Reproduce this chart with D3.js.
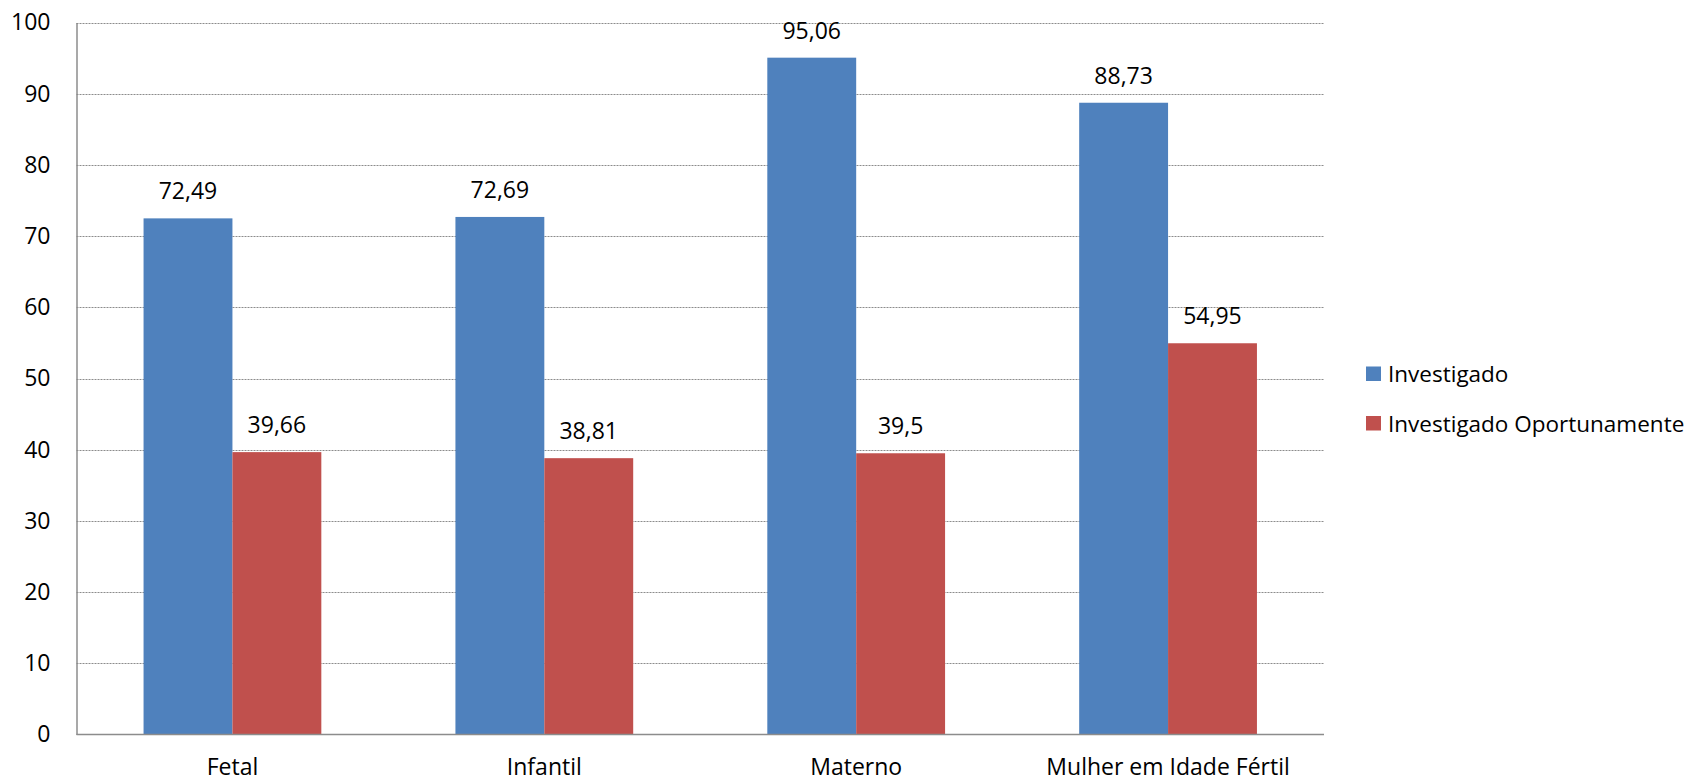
<!DOCTYPE html>
<html>
<head>
<meta charset="utf-8">
<script src="https://cdn.jsdelivr.net/npm/d3@7"></script>
<style>
  html, body { margin: 0; padding: 0; background: #fff; }
  svg { display: block; font-family: "Open Sans", Lato, sans-serif; }
</style>
</head>
<body>
<svg id="chart" width="1696" height="782"></svg>
<script>
// Categories and series
const categories = ["Fetal", "Infantil", "Materno", "Mulher em Idade Fértil"];
const seriesNames = ["Investigado", "Investigado Oportunamente"];
const investigado = [72.49, 72.69, 95.06, 88.73];
const oportunamente = [39.66, 38.81, 39.5, 54.95];
const yTicks = [0, 10, 20, 30, 40, 50, 60, 70, 80, 90, 100];
const colors = ["#4F81BD", "#C0504D"];

const FONT = "'Open Sans', Lato, sans-serif";
const FONT_SIZE = 23;

const rows = categories.map((c, i) => ({
  category: c,
  values: [
    { key: seriesNames[0], value: investigado[i] },
    { key: seriesNames[1], value: oportunamente[i] }
  ]
}));

const svg = d3.select("#chart");
const plot = { left: 76.5, right: 1324, top: 22.5, bottom: 734.5 };

const x = d3.scaleBand()
  .domain(categories)
  .range([plot.left, plot.right])
  .paddingInner(0.43)
  .paddingOuter(0.215);

const xInner = d3.scaleBand()
  .domain(seriesNames)
  .range([0, x.bandwidth()]);

const y = d3.scaleLinear().domain([0, 100]).range([plot.bottom, plot.top]);

const fmt = v => String(v).replace(".", ",");

// Dotted horizontal gridlines
svg.append("g")
  .selectAll("line")
  .data(yTicks.filter(t => t > 0))
  .join("line")
  .attr("x1", plot.left)
  .attr("x2", plot.right)
  .attr("y1", d => Math.round(y(d)) + 0.5)
  .attr("y2", d => Math.round(y(d)) + 0.5)
  .attr("stroke", "#8c8c8c")
  .attr("stroke-width", 1)
  .attr("stroke-dasharray", "2,1");

// Y axis
const yAxis = d3.axisLeft(y).tickValues(yTicks).tickSize(0).tickPadding(26);
const gy = svg.append("g")
  .attr("transform", `translate(${plot.left},0)`)
  .call(yAxis);
gy.select(".domain").attr("stroke", "#8c8c8c").attr("stroke-width", 1.5);
gy.selectAll("text")
  .attr("font-size", FONT_SIZE)
  .attr("fill", "#000")
  .attr("font-family", FONT);

// Bars
const groups = svg.append("g")
  .selectAll("g")
  .data(rows)
  .join("g")
  .attr("transform", d => `translate(${x(d.category)},0)`);

groups.selectAll("rect")
  .data(d => d.values)
  .join("rect")
  .attr("x", d => xInner(d.key))
  .attr("width", xInner.bandwidth())
  .attr("y", d => y(d.value))
  .attr("height", d => plot.bottom - y(d.value))
  .attr("fill", (d, i) => colors[i]);

// Value labels
groups.selectAll("text")
  .data(d => d.values)
  .join("text")
  .attr("x", d => xInner(d.key) + xInner.bandwidth() / 2)
  .attr("y", d => y(d.value) - 19)
  .attr("text-anchor", "middle")
  .attr("font-size", FONT_SIZE)
  .attr("fill", "#000")
  .text(d => fmt(d.value));

// X axis
const xAxis = d3.axisBottom(x).tickSize(0).tickPadding(24);
const gx = svg.append("g")
  .attr("transform", `translate(0,${plot.bottom})`)
  .call(xAxis);
gx.select(".domain").attr("stroke", "#8c8c8c").attr("stroke-width", 1.5)
  .attr("d", `M${plot.left},0H${plot.right}`);
gx.selectAll("text")
  .attr("font-size", FONT_SIZE)
  .attr("fill", "#000")
  .attr("font-family", FONT);

// Legend
const legend = svg.append("g")
  .selectAll("g")
  .data(seriesNames)
  .join("g")
  .attr("transform", (d, i) => `translate(1366,${366.5 + i * 49.5})`);
legend.append("rect")
  .attr("width", 15)
  .attr("height", 14.5)
  .attr("fill", (d, i) => colors[i]);
legend.append("text")
  .attr("x", 22)
  .attr("y", 15.5)
  .attr("font-size", 22.5)
  .attr("fill", "#000")
  .text(d => d);
</script>
</body>
</html>
